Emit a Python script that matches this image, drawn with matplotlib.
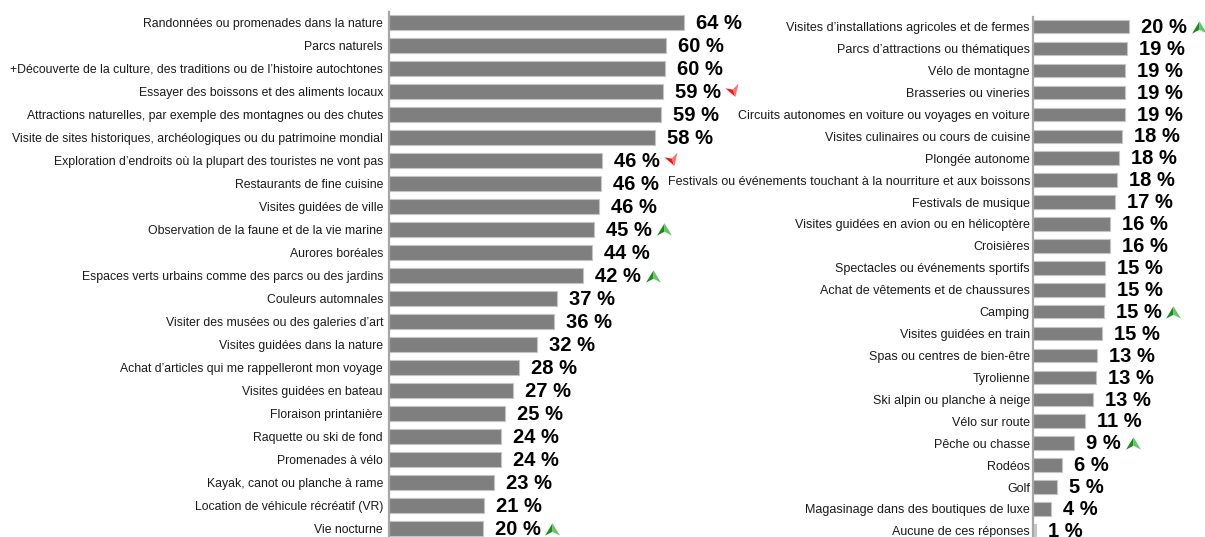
import numpy as np
import matplotlib
matplotlib.use("Agg")
import matplotlib.pyplot as plt
from matplotlib.path import Path
from matplotlib.transforms import ScaledTranslation

plt.rcParams['font.family'] = ['Liberation Sans', 'DejaVu Sans']

left_categories = [
    "Randonnées ou promenades dans la nature",
    "Parcs naturels",
    "+Découverte de la culture, des traditions ou de l’histoire autochtones",
    "Essayer des boissons et des aliments locaux",
    "Attractions naturelles, par exemple des montagnes ou des chutes",
    "Visite de sites historiques, archéologiques ou du patrimoine mondial",
    "Exploration d’endroits où la plupart des touristes ne vont pas",
    "Restaurants de fine cuisine",
    "Visites guidées de ville",
    "Observation de la faune et de la vie marine",
    "Aurores boréales",
    "Espaces verts urbains comme des parcs ou des jardins",
    "Couleurs automnales",
    "Visiter des musées ou des galeries d’art",
    "Visites guidées dans la nature",
    "Achat d’articles qui me rappelleront mon voyage",
    "Visites guidées en bateau",
    "Floraison printanière",
    "Raquette ou ski de fond",
    "Promenades à vélo",
    "Kayak, canot ou planche à rame",
    "Location de véhicule récréatif (VR)",
    "Vie nocturne",
]
left_values = [64.0, 60.0, 59.9, 59.4, 59.0, 57.8, 46.2, 45.9, 45.6, 44.4, 44.0, 42.1,
               36.5, 35.9, 32.2, 28.3, 27.0, 25.2, 24.2, 24.2, 22.8, 20.5, 20.3]
left_labels = ["64 %", "60 %", "60 %", "59 %", "59 %", "58 %", "46 %", "46 %", "46 %",
               "45 %", "44 %", "42 %", "37 %", "36 %", "32 %", "28 %", "27 %", "25 %",
               "24 %", "24 %", "23 %", "21 %", "20 %"]
left_trend = ["", "", "", "down", "", "", "down", "", "", "up", "", "up",
              "", "", "", "", "", "", "", "", "", "", "up"]

right_categories = [
    "Visites d’installations agricoles et de fermes",
    "Parcs d’attractions ou thématiques",
    "Vélo de montagne",
    "Brasseries ou vineries",
    "Circuits autonomes en voiture ou voyages en voiture",
    "Visites culinaires ou cours de cuisine",
    "Plongée autonome",
    "Festivals ou événements touchant à la nourriture et aux boissons",
    "Festivals de musique",
    "Visites guidées en avion ou en hélicoptère",
    "Croisières",
    "Spectacles ou événements sportifs",
    "Achat de vêtements et de chaussures",
    "Camping",
    "Visites guidées en train",
    "Spas ou centres de bien-être",
    "Tyrolienne",
    "Ski alpin ou planche à neige",
    "Vélo sur route",
    "Pêche ou chasse",
    "Rodéos",
    "Golf",
    "Magasinage dans des boutiques de luxe",
    "Aucune de ces réponses",
]
right_values = [20.1, 19.5, 19.2, 19.2, 19.2, 18.5, 17.9, 17.6, 17.1, 16.1, 16.0, 15.1,
                14.9, 14.7, 14.4, 13.3, 13.1, 12.6, 10.8, 8.6, 6.0, 5.1, 3.7, 0.6]
right_labels = ["20 %", "19 %", "19 %", "19 %", "19 %", "18 %", "18 %", "18 %", "17 %",
                "16 %", "16 %", "15 %", "15 %", "15 %", "15 %", "13 %", "13 %", "13 %",
                "11 %", "9 %", "6 %", "5 %", "4 %", "1 %"]
right_trend = ["up", "", "", "", "", "", "", "", "", "", "", "",
               "", "up", "", "", "", "", "", "up", "", "", "", ""]

W, H, DPI = 1205, 537, 100
fig = plt.figure(figsize=(W / DPI, H / DPI), dpi=DPI)

BAR = "#7f7f7f"
BAR_EDGE = "#c4c4c4"
SPINE = "#a6a6a6"
VAL_SIZE = 14.5


def make_axes(x0_px, px_per_unit, xmax, first_c, spacing, n):
    ax = fig.add_axes([x0_px / W, 0, xmax * px_per_unit / W, 1])
    top = -first_c / spacing
    bottom = (H - first_c) / spacing
    ax.set_ylim(bottom, top)
    ax.set_xlim(0, xmax)
    ax.patch.set_alpha(0)
    for s in ["top", "right", "bottom"]:
        ax.spines[s].set_visible(False)
    ax.spines["left"].set_color(SPINE)
    ax.spines["left"].set_linewidth(1.6)
    ax.spines["left"].set_bounds(-0.45, n + 0.5)
    ax.set_xticks([])
    return ax


def arrow_halves(direction, rot_deg=0.0):
    if direction == "up":
        tip, lb, notch, rb = (0, 0.62), (-0.75, -0.62), (0, -0.22), (0.75, -0.62)
    else:
        tip, lb, notch, rb = (0, -0.62), (-0.75, 0.62), (0, 0.22), (0.75, 0.62)
    th = np.deg2rad(rot_deg)
    R = np.array([[np.cos(th), -np.sin(th)], [np.sin(th), np.cos(th)]])
    left = np.array([tip, lb, notch, tip]) @ R.T
    right = np.array([tip, notch, rb, tip]) @ R.T
    m = 0.8
    left = np.vstack([left, [[m, m], [-m, -m]]])
    right = np.vstack([right, [[m, m], [-m, -m]]])
    codes = [Path.MOVETO, Path.LINETO, Path.LINETO, Path.CLOSEPOLY, Path.MOVETO, Path.MOVETO]
    return Path(left, codes), Path(right, codes)


def draw_panel(ax, cats, vals, labels, pad_px, label_size, last_light=False):
    y = np.arange(len(cats))
    colors = [BAR] * len(cats)
    if last_light:
        colors[-1] = "#c8c8c8"
    ax.barh(y, vals, height=0.62, color=colors, edgecolor=BAR_EDGE, linewidth=0.8)
    ax.set_yticks(y)
    ax.set_yticklabels(cats, fontsize=label_size, color="#1a1a1a")
    ax.tick_params(axis="y", length=0, pad=pad_px * 0.72)
    texts = []
    for yi, v, lab in zip(y, vals, labels):
        t = ax.annotate(lab, xy=(v, yi), xytext=(12 * 0.72, -0.5), textcoords="offset points",
                        ha="left", va="center", fontsize=VAL_SIZE, fontweight="bold",
                        color="black", annotation_clip=False)
        texts.append(t)
    return texts


ax_l = make_axes(389, 4.61, 70, 22.5, 23.0, len(left_categories))
ax_r = make_axes(1033, 4.80, 35, 26.7, 21.92, len(right_categories))

tl = draw_panel(ax_l, left_categories, left_values, left_labels, 6, 8.8)
tr = draw_panel(ax_r, right_categories, right_values, right_labels, 3, 9,
                last_light=True)

fig.canvas.draw()
renderer = fig.canvas.get_renderer()

for ax, texts, vals, trends in [(ax_l, tl, left_values, left_trend),
                                (ax_r, tr, right_values, right_trend)]:
    for i, (t, v, tr_) in enumerate(zip(texts, vals, trends)):
        if not tr_:
            continue
        bb = t.get_window_extent(renderer)
        bar_end = ax.transData.transform((v, i))[0]
        dx = (bb.x1 - bar_end + 12) / DPI
        trans = ax.transData + ScaledTranslation(dx, 0, fig.dpi_scale_trans)
        if tr_ == "up":
            pl, pr = arrow_halves("up")
            cl, cr = "#1a8c1a", "#66c466"
        else:
            pl, pr = arrow_halves("down", 18)
            cl, cr = "#ff1010", "#ff7070"
        for p, c in [(pl, cl), (pr, cr)]:
            ax.plot([v], [i], marker=p, markersize=11.5, color=c, markeredgewidth=0,
                    linestyle="none", transform=trans, clip_on=False)

fig.savefig("out.png", dpi=DPI)
